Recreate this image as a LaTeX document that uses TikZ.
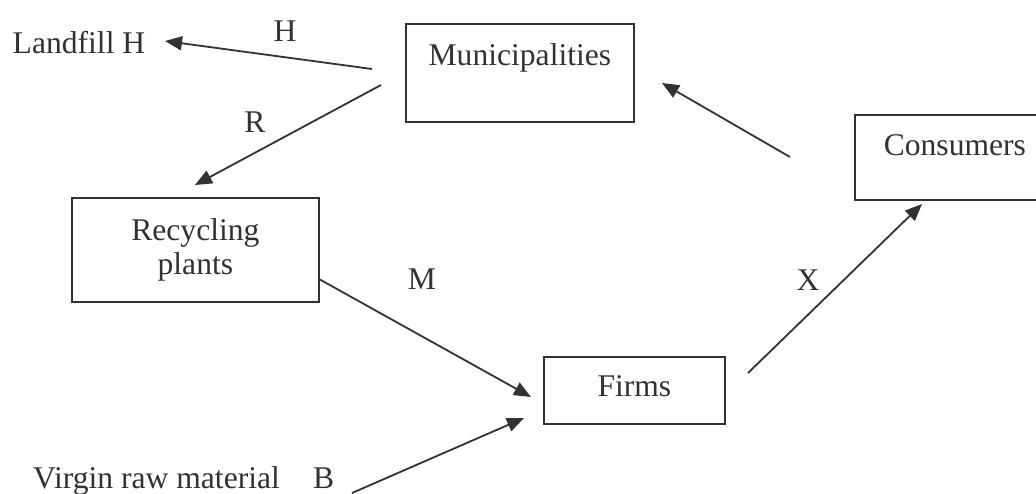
\documentclass[tikz,border=0pt]{standalone}
\usepackage{fontspec}
\setmainfont{Liberation Serif}
\usetikzlibrary{arrows.meta}
\definecolor{ink}{RGB}{50,50,52}
\begin{document}
\begin{tikzpicture}[x=1pt,y=-1pt,
  every node/.style={font=\fontsize{31.6}{34}\selectfont},
  box/.style={draw=ink,line width=1.8pt,inner sep=0pt,text=ink,align=center,anchor=north west},
  lbl/.style={text=ink,inner sep=0pt,anchor=base},
  flow/.style={draw=ink,line width=1.8pt,-{Triangle[length=17pt,width=14pt]}}]
\useasboundingbox (0,0) rectangle (1036,493);

\node[box,text width=228pt,text height=42pt,text depth=56pt] (mun) at (405,23) {Municipalities};
\node[box,text width=247pt,text height=43pt,text depth=61pt] (rec) at (71,197) {Recycling\\plants};
\node[box,text width=181pt,text height=40pt,text depth=27pt] (firm) at (543,356) {Firms};
\node[box,text width=200pt,text height=41pt,text depth=44pt] (cons) at (854,114) {Consumers};

\node[lbl] (land) at (79,53) {Landfill H};
\node[lbl] (hl) at (285,41) {H};
\node[lbl] (rl) at (255,132) {R};
\node[lbl] (ml) at (422,289) {M};
\node[lbl] (xl) at (808,290) {X};
\node[lbl,anchor=base west] (virgin) at (33,488) {Virgin raw material};
\node[lbl,anchor=base west] (bl) at (313,488) {B};

\coordinate (h1) at (372,69);  \coordinate (h2) at (165,41);
\coordinate (r1) at (381,85);  \coordinate (r2) at (195,185);
\coordinate (c1) at (790,157); \coordinate (c2) at (662,83);
\coordinate (m1) at (319,279); \coordinate (m2) at (531,397);
\coordinate (x1) at (748,373); \coordinate (x2) at (922,204);
\coordinate (b1) at (352,493); \coordinate (b2) at (524,418);

\draw[flow] (h1) -- (h2);
\draw[flow] (r1) -- (r2);
\draw[flow] (c1) -- (c2);
\draw[flow] (m1) -- (m2);
\draw[flow] (x1) -- (x2);
\draw[flow] (b1) -- (b2);
\end{tikzpicture}
\end{document}
